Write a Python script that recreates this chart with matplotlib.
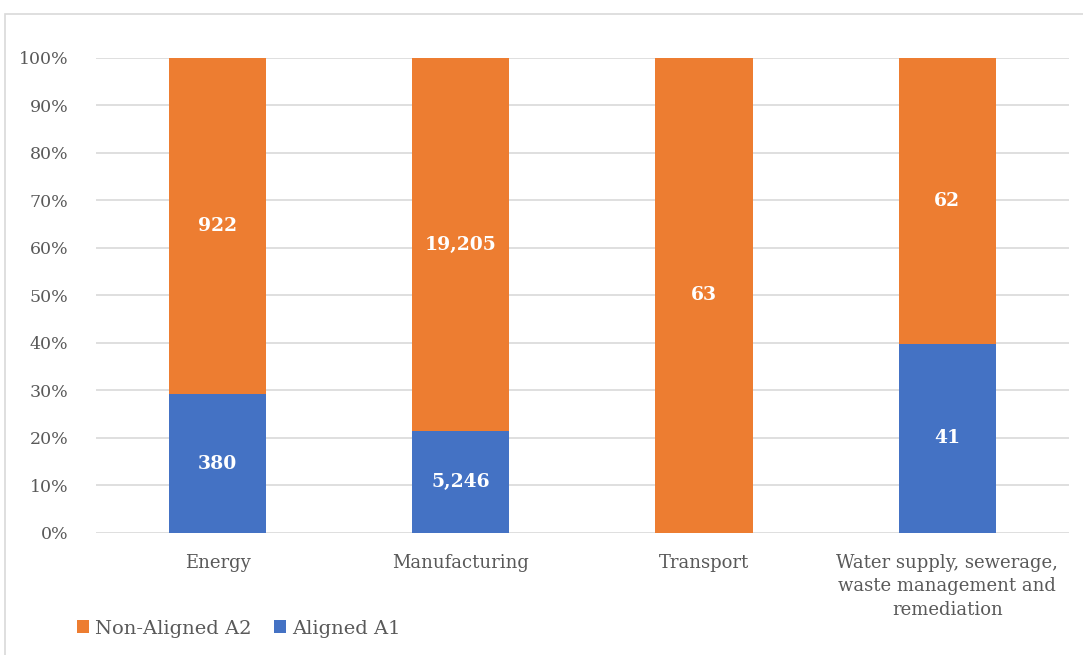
import numpy as np
import matplotlib.pyplot as plt
from matplotlib.patches import Rectangle

categories = ["Energy", "Manufacturing", "Transport",
              "Water supply, sewerage,\nwaste management and\nremediation"]
aligned_a1 = [380, 5246, 0, 41]
non_aligned_a2 = [922, 19205, 63, 62]

blue = "#4472C4"
orange = "#ED7D31"
grey = "#595959"

plt.rcParams['font.family'] = ['DejaVu Serif']

fig = plt.figure(figsize=(10.83, 6.55), dpi=100)
ax = fig.add_axes([0.0886, 0.1863, 0.8984, 0.7252])

a1 = np.array(aligned_a1, dtype=float)
a2 = np.array(non_aligned_a2, dtype=float)
tot = a1 + a2
p1 = a1 / tot * 100
p2 = a2 / tot * 100
x = np.arange(len(categories))

ax.bar(x, p1, width=0.4, color=blue, label="Aligned A1", zorder=3)
ax.bar(x, p2, width=0.4, bottom=p1, color=orange, label="Non-Aligned A2", zorder=3)

for i in range(len(x)):
    if a1[i] > 0:
        ax.text(x[i], p1[i] / 2, f"{int(a1[i]):,}", ha="center", va="center",
                color="white", fontsize=13.5, fontweight="bold", zorder=4)
    if a2[i] > 0:
        ax.text(x[i], p1[i] + p2[i] / 2, f"{int(a2[i]):,}", ha="center", va="center",
                color="white", fontsize=13.5, fontweight="bold", zorder=4)

ax.set_xlim(-0.5, 3.5)
ax.set_ylim(0, 100)
ax.set_yticks(np.arange(0, 101, 10))
ax.set_yticklabels([f"{v}%" for v in range(0, 101, 10)])
ax.set_xticks(x)
ax.set_xticklabels(categories, linespacing=1.4)
ax.tick_params(axis="both", length=0, colors=grey, labelsize=13)
ax.tick_params(axis="y", pad=20, labelsize=12.5)
ax.tick_params(axis="x", pad=15)
ax.grid(axis="y", color="#D9D9D9", linewidth=1.2, zorder=0)
for s in ax.spines.values():
    s.set_visible(False)

handles, labels = ax.get_legend_handles_labels()
fig.legend(handles[::-1], labels[::-1], loc="lower left", bbox_to_anchor=(0.055, 0.0),
           ncol=2, frameon=False, fontsize=14, labelcolor=grey,
           handlelength=0.6, handleheight=0.6, handletextpad=0.3, columnspacing=1.2)

fig.patches.append(Rectangle((0.005, -0.1), 1.1, 0.1 + (655 - 14) / 655,
                             transform=fig.transFigure, fill=False,
                             edgecolor="#D9D9D9", linewidth=1.2))

fig.savefig("out.png", dpi=100)
